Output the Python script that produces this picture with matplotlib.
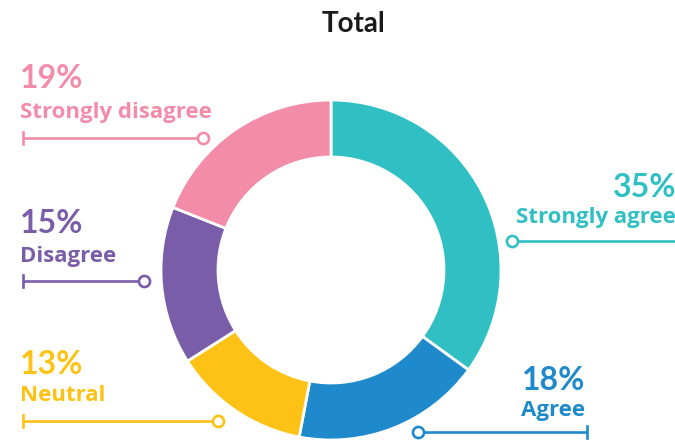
import matplotlib
matplotlib.use("Agg")
import matplotlib.pyplot as plt

categories = ["Strongly agree", "Agree", "Neutral", "Disagree", "Strongly disagree"]
values = [35, 18, 13, 15, 19]
colors = ["#30C0C4", "#1F8ACB", "#FDC215", "#7A5DA8", "#F28CA8"]

# label layout in pixel coords (y from top): text x, align, pct baseline, label baseline,
# connector y, tick x, circle x
layout = {
    "Strongly agree":    (676, "right", 197, 223, 241, 690, 512),
    "Agree":             (585, "right", 390, 416, 432, 587, 418),
    "Neutral":           (20, "left", 374, 401, 421, 23, 218),
    "Disagree":          (20, "left", 233, 262, 281, 23, 144),
    "Strongly disagree": (20, "left", 88, 118, 138, 23, 203),
}

W, H = 675, 440
fig = plt.figure(figsize=(W / 100, H / 100), dpi=100)
ax = fig.add_axes([0, 0, 1, 1])

ax.pie(values, colors=colors, startangle=90, counterclock=False,
       radius=170, center=(331, H - 270),
       wedgeprops=dict(width=57, edgecolor="white", linewidth=2))

for cat, val, col in zip(categories, values, colors):
    tx, ha, yp, yl, yc, xt, xc = layout[cat]
    ax.text(tx, H - yp, f"{val}%", ha=ha, va="baseline", color=col,
            fontsize=23, fontweight="bold", family="Lato")
    ax.text(tx, H - yl, cat, ha=ha, va="baseline", color=col,
            fontsize=16, fontweight="bold", family="Open Sans")
    ax.plot([xt, xc], [H - yc, H - yc], color=col, lw=1.9, solid_capstyle="butt", zorder=3)
    ax.plot([xt, xt], [H - yc - 6, H - yc + 6], color=col, lw=1.9, zorder=3)
    ax.plot(xc, H - yc, marker="o", ms=8, mfc="white", mec=col, mew=1.9, zorder=4)

ax.text(354, H - 32, "Total", ha="center", va="baseline", color="#1a1a1a",
        fontsize=20, fontweight="bold", family="Lato")

ax.set_xlim(0, W)
ax.set_ylim(0, H)
ax.set_aspect("equal")
ax.axis("off")

fig.savefig("out.png", dpi=100, facecolor="white")
